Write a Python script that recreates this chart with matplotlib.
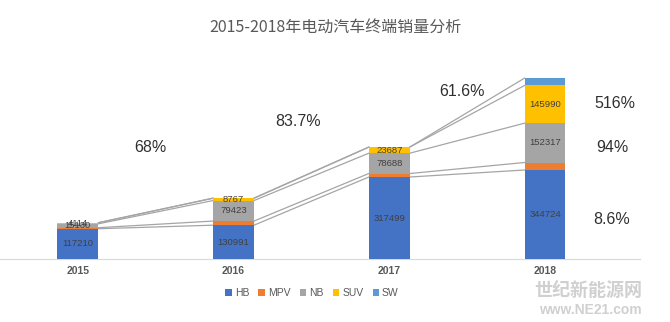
import matplotlib
matplotlib.use("Agg")
import matplotlib.pyplot as plt
import numpy as np

plt.rcParams['font.family'] = ['Liberation Sans', 'Noto Sans CJK SC', 'DejaVu Sans']

years = ['2015', '2016', '2017', '2018']
series = ['HB', 'MPV', 'NB', 'SUV', 'SW']
hb = [117210, 130991, 317499, 344724]
mpv = [4000, 16000, 13600, 29000]
nb = [15130, 79423, 78688, 152317]
suv = [4114, 8767, 23687, 145990]
sw = [0, 800, 0, 28500]
colors = ['#4472C4', '#ED7D31', '#A5A5A5', '#FFC000', '#5B9BD5']
labelled = ['HB', 'NB', 'SUV']

growth_labels = ['68%', '83.7%', '61.6%', '516%', '94%', '8.6%']
growth_pos = [(150, 147), (298, 121), (462, 92), (615, 104), (612, 148), (612, 219)]

data = [hb, mpv, nb, suv, sw]
x = np.arange(len(years))
w = 0.263

fig = plt.figure(figsize=(6.7, 3.22), dpi=100)
ax = fig.add_axes([0.0, 63 / 322, 640 / 670, 199 / 322])

bottom = np.zeros(len(years))
tops = []
for name, vals, c in zip(series, data, colors):
    vals = np.array(vals, dtype=float)
    ax.bar(x, vals, w, bottom=bottom, color=c, label=name, zorder=3)
    if name in labelled:
        for xi, b, v in zip(x, bottom, vals):
            ax.text(xi, b + v / 2, str(int(v)), ha='center', va='center',
                    fontsize=6.8, color='#404040', zorder=4)
    bottom = bottom + vals
    tops.append(bottom.copy())

# series lines between bars
for t in tops:
    for i in range(len(years) - 1):
        ax.plot([x[i] + w / 2, x[i + 1] - w / 2], [t[i], t[i + 1]],
                color='#A5A5A5', lw=0.9, zorder=2)

ax.set_xlim(-0.5, 3.61)
ax.set_ylim(0, 199 * 3873)
for s in ['top', 'right', 'left']:
    ax.spines[s].set_visible(False)
ax.spines['bottom'].set_color('#D9D9D9')
ax.set_yticks([])
ax.set_xticks(x)
ax.set_xticklabels(years, fontsize=7.5, color='#595959', fontweight='bold')
ax.tick_params(axis='x', length=0, pad=5)

fig.text(335 / 670, 1 - 27 / 322, '2015-2018年电动汽车终端销量分析',
         ha='center', va='center', fontsize=11.5, color='#595959',
         family=['Noto Sans CJK SC', 'DejaVu Sans'])

for s, (px, py) in zip(growth_labels, growth_pos):
    fig.text(px / 670, 1 - py / 322, s, ha='center', va='center',
             fontsize=11.5, color='#303030')

fig.legend(loc='center', bbox_to_anchor=(312 / 670, 1 - 293 / 322), ncol=5,
           frameon=False, fontsize=7.5, handlelength=0.6, handleheight=0.6,
           handletextpad=0.3, columnspacing=0.9, labelcolor='#595959')

fig.text(588 / 670, 1 - 290 / 322, '世纪新能源网', ha='center', va='center',
         fontsize=13, color='#D0D0D0', fontweight='bold',
         family=['Noto Sans CJK SC', 'DejaVu Sans'])
fig.text(590 / 670, 1 - 310 / 322, 'www.NE21.com', ha='center', va='center',
         fontsize=10, color='#D0D0D0', fontweight='bold')

fig.savefig('out.png', dpi=100, facecolor='white')
